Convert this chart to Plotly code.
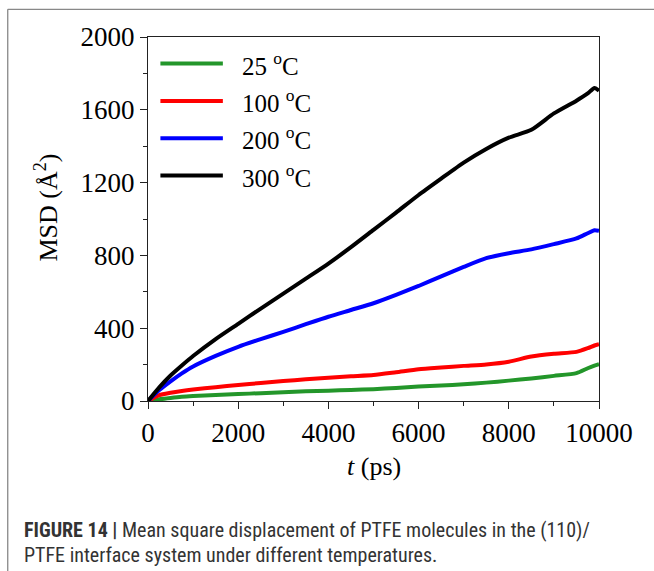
import plotly.graph_objects as go

# ---- data ----
t_ps = [0, 250, 500, 750, 1000, 1500, 2000, 2500, 3000, 3500, 4000, 4500, 5000,
        5500, 6000, 6500, 7000, 7500, 8000, 8500, 9000, 9500, 9750, 9900, 10000]
msd_25 = [0, 10, 17, 23, 27, 33, 38, 43, 48, 53, 57, 61, 65,
          72, 79, 85, 92, 101, 112, 124, 138, 153, 180, 195, 203]
msd_100 = [0, 32, 45, 55, 63, 76, 88, 99, 110, 119, 128, 136, 143,
           158, 174, 184, 193, 201, 216, 244, 259, 270, 290, 305, 312]
msd_200 = [0, 60, 108, 152, 190, 248, 298, 340, 380, 422, 463, 500, 537,
           583, 632, 685, 737, 785, 812, 833, 862, 893, 922, 938, 935]
msd_300 = [0, 75, 140, 195, 247, 340, 424, 508, 590, 672, 755, 845, 940,
           1035, 1132, 1222, 1310, 1385, 1447, 1490, 1580, 1650, 1690, 1720, 1705]

series_names = ["25 <sup>o</sup>C", "100 <sup>o</sup>C", "200 <sup>o</sup>C", "300 <sup>o</sup>C"]
series_values = [msd_25, msd_100, msd_200, msd_300]
series_colors = ["#23962a", "#ff0000", "#0000ff", "#000000"]

x_ticks = [0, 2000, 4000, 6000, 8000, 10000]
y_ticks = [0, 400, 800, 1200, 1600, 2000]

serif = "Liberation Serif, Times New Roman, serif"

fig = go.Figure()
for name, vals, col in zip(series_names, series_values, series_colors):
    fig.add_trace(go.Scatter(x=t_ps, y=vals, mode="lines", name=name,
                             line=dict(color=col, width=4, shape="spline", smoothing=0.6),
                             showlegend=False))

# manual legend (long line samples like the original)
leg_x0, leg_x1, leg_tx = 0.0275, 0.166, 0.203
leg_y0, leg_dy = 0.927, 0.1025
for i, (name, col) in enumerate(zip(series_names, series_colors)):
    yy = leg_y0 - i * leg_dy
    fig.add_shape(type="line", xref="paper", yref="paper", x0=leg_x0, x1=leg_x1,
                  y0=yy, y1=yy, line=dict(color=col, width=4))
    fig.add_annotation(xref="paper", yref="paper", x=leg_tx, y=yy, text=name,
                       showarrow=False, xanchor="left", yanchor="middle",
                       font=dict(family=serif, size=25, color="black"))

axis_common = dict(showline=True, linecolor="#222", linewidth=1.3, mirror=True,
                   ticks="outside", ticklen=7, tickwidth=1.3, tickcolor="#222",
                   showgrid=False, zeroline=False,
                   tickfont=dict(family=serif, size=27, color="black"))

fig.update_xaxes(range=[0, 10000], tickvals=x_ticks, ticktext=[str(v) for v in x_ticks],
                 minor=dict(ticks="outside", dtick=1000, ticklen=4, tickwidth=1.3,
                            tickcolor="#222", showgrid=False),
                 **axis_common)
fig.update_yaxes(range=[0, 2000], tickvals=y_ticks, ticktext=[str(v) for v in y_ticks],
                 minor=dict(ticks="outside", dtick=200, ticklen=4, tickwidth=1.3,
                            tickcolor="#222", showgrid=False),
                 **axis_common)

# axis titles
fig.add_annotation(xref="paper", yref="paper", x=0.5, y=-0.18, text="<i>t</i> (ps)",
                   showarrow=False, xanchor="center", yanchor="middle",
                   font=dict(family=serif, size=26, color="black"))
fig.add_annotation(xref="paper", yref="paper", x=-0.225, y=0.53, text="MSD (Å<sup>2</sup>)",
                   showarrow=False, xanchor="center", yanchor="middle", textangle=-90,
                   font=dict(family=serif, size=26, color="black"))

# caption
cap_font = "Liberation Sans Narrow, Roboto Condensed, Liberation Sans, Arial, sans-serif"
fig.add_annotation(xref="paper", yref="paper", x=-0.28, y=-0.355, xanchor="left", yanchor="middle",
                   showarrow=False, align="left",
                   text="<b>FIGURE 14 |</b> Mean square displacement of PTFE molecules in the (110)/",
                   font=dict(family=cap_font, size=20, color="#333"))
fig.add_annotation(xref="paper", yref="paper", x=-0.28, y=-0.424, xanchor="left", yanchor="middle",
                   showarrow=False, align="left",
                   text="PTFE interface system under different temperatures.",
                   font=dict(family=cap_font, size=20, color="#333"))

# page frame lines (top and left)
fig.add_shape(type="line", xref="paper", yref="paper", x0=-0.311, x1=1.2,
              y0=1.076, y1=1.076, line=dict(color="#888", width=1.3))
fig.add_shape(type="line", xref="paper", yref="paper", x0=-0.311, x1=-0.311,
              y0=1.076, y1=-0.5, line=dict(color="#888", width=1.3))

fig.update_layout(width=654, height=571, margin=dict(l=148, r=55, t=37, b=170),
                  paper_bgcolor="white", plot_bgcolor="white", showlegend=False)

fig.write_html("out.html")
